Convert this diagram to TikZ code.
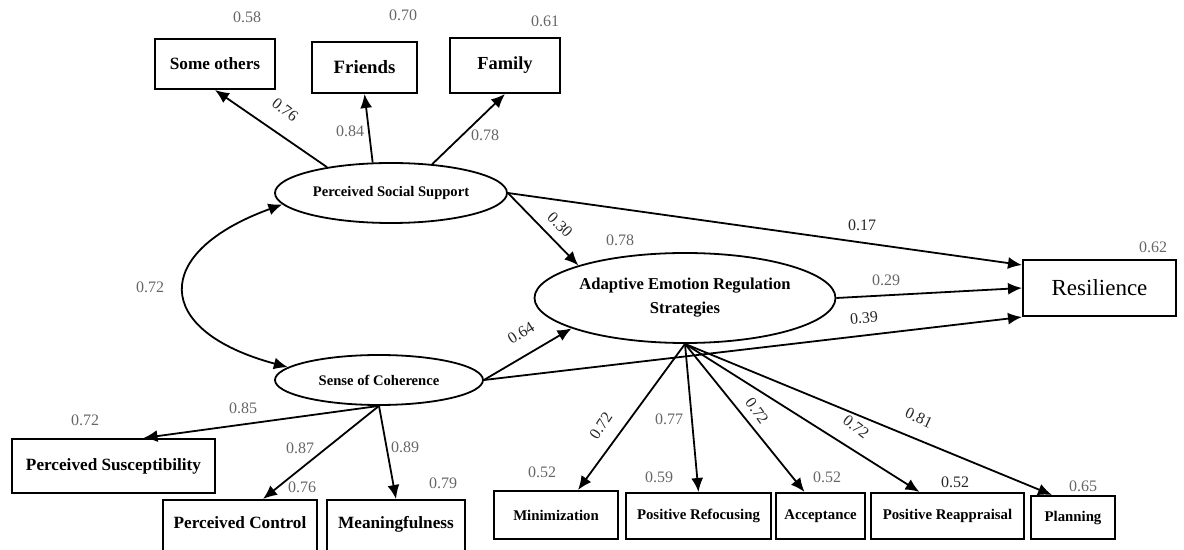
\documentclass[tikz,border=0pt]{standalone}
\usepackage{fontspec}
\setmainfont{Liberation Serif}
\usetikzlibrary{arrows.meta,shapes.geometric}

\begin{document}
\begin{tikzpicture}[x=0.5pt, y=-0.5pt, >={Latex[length=7pt,width=6pt]},
    box/.style={draw, line width=1pt, rectangle, inner sep=0pt, font=\fontsize{8.6}{10}\selectfont\bfseries},
    latent/.style={draw, line width=0.9pt, ellipse, inner sep=0pt, font=\fontsize{7.3}{9}\selectfont\bfseries},
    arr/.style={->, line width=0.9pt},
    num/.style={text=black!60, font=\fontsize{8}{9}\selectfont, inner sep=0pt},
    numd/.style={text=black!85, font=\fontsize{8}{9}\selectfont, inner sep=0pt}]

    % --- Khung ---
    \useasboundingbox (0,0) rectangle (1184,550);
    \clip (0,0) rectangle (1184,550);

    % --- Bien tiem an ---
    \node[latent, minimum width=116pt, minimum height=30pt] (pss) at (391,193) {Perceived Social Support};
    \node[latent, minimum width=150.5pt, minimum height=45pt, align=center, font=\fontsize{8.3}{12}\selectfont\bfseries] (aers) at (685,298) {Adaptive Emotion Regulation\\Strategies};
    \node[latent, minimum width=104pt, minimum height=25pt] (soc) at (379,380) {Sense of Coherence};

    % --- Bien quan sat: ho tro xa hoi ---
    \node[box, minimum width=60pt, minimum height=25pt] (so) at (215,64) {Some others};
    \node[box, minimum width=52.5pt, minimum height=25.5pt, font=\fontsize{9.4}{10}\selectfont\bfseries] (fr) at (364.5,67.5) {Friends};
    \node[box, minimum width=55pt, minimum height=27.5pt, font=\fontsize{9.2}{10}\selectfont\bfseries] (fa) at (505,65.5) {Family};

    % --- Bien quan sat: cam nhan mach lac ---
    \node[box, minimum width=101.5pt, minimum height=27pt] (psu) at (113.5,466) {Perceived Susceptibility};
    \node[box, anchor=north, minimum width=77pt, text height=14.5pt, text depth=20.5pt] (pco) at (240,499) {Perceived Control};
    \node[box, anchor=north, minimum width=69pt, text height=14.5pt, text depth=20.5pt] (mea) at (396,499) {Meaningfulness};

    % --- Bien quan sat: chien luoc dieu chinh cam xuc ---
    \node[box, minimum width=62pt, minimum height=24pt, font=\fontsize{7.4}{9}\selectfont\bfseries] (mi) at (556,515) {Minimization};
    \node[box, minimum width=72.5pt, minimum height=23pt, font=\fontsize{7.4}{9}\selectfont\bfseries] (prf) at (698.5,516) {Positive Refocusing};
    \node[box, minimum width=44.5pt, minimum height=23pt, font=\fontsize{7.4}{9}\selectfont\bfseries] (ac) at (820.5,516) {Acceptance};
    \node[box, minimum width=76.5pt, minimum height=23pt, font=\fontsize{7.4}{9}\selectfont\bfseries] (pra) at (947.5,516) {Positive Reappraisal};
    \node[box, minimum width=42pt, minimum height=21.5pt, font=\fontsize{7.4}{9}\selectfont\bfseries] (pl) at (1073,517.5) {Planning};

    % --- Bien ket qua ---
    \node[draw, line width=1pt, rectangle, inner sep=0pt, minimum width=76.5pt, minimum height=28pt, font=\fontsize{11.5}{13}\selectfont] (res) at (1099.5,288) {Resilience};

    % --- Duong dan ---
    \draw[arr] (pss.158) -- (so.south);
    \draw[arr] (pss.121) -- (fr.south);
    \draw[arr] (pss.35) -- (fa.south);
    \draw[<->, line width=0.9pt] (pss.186) to[out=200, in=165, looseness=2.2] (soc.172);
    \draw[arr] (pss.east) -- (aers.163);
    \draw[arr] (pss.east) -- ([yshift=11.5pt]res.west);
    \draw[arr] (aers.east) -- (res.west);
    \draw[arr] (soc.east) -- (aers.195);
    \draw[arr] (soc.east) -- (res.south west);
    \draw[arr] (soc.south) -- ([xshift=15pt]psu.north);
    \draw[arr] (soc.south) -- ([xshift=11.5pt]pco.north);
    \draw[arr] (soc.south) -- (mea.north);
    \draw[arr] (aers.south) -- ([xshift=11pt]mi.north);
    \draw[arr] (aers.south) -- (prf.north);
    \draw[arr] (aers.south) -- ([xshift=-8pt]ac.north);
    \draw[arr] (aers.south) -- ([xshift=-14pt]pra.north);
    \draw[arr] (aers.south) -- ([xshift=-10.5pt]pl.north);

    % --- He so ---
    \node[num] (e1) at (247,17) {0.58};
    \node[num] (e2) at (403,15) {0.70};
    \node[num] (e3) at (545,21) {0.61};
    \node[numd, rotate=-38] (l1) at (285,110) {0.76};
    \node[num] (l2) at (350,131) {0.84};
    \node[num] (l3) at (485,135) {0.78};
    \node[num] (c1) at (150,287) {0.72};
    \node[numd, rotate=-45] (b1) at (560,225) {0.30};
    \node[num] (r1) at (620,240) {0.78};
    \node[numd] (b2) at (862,225) {0.17};
    \node[num] (b3) at (886,280) {0.29};
    \node[numd, rotate=5] (b4) at (864,318) {0.39};
    \node[num] (r2) at (1153,247) {0.62};
    \node[numd, rotate=32] (b5) at (521,333) {0.64};
    \node[num] (l4) at (243,408) {0.85};
    \node[num] (e4) at (85,420) {0.72};
    \node[num] (l5) at (300,448) {0.87};
    \node[num] (e5) at (302,487) {0.76};
    \node[num] (l6) at (405,447) {0.89};
    \node[num] (e6) at (443,483) {0.79};
    \node[numd, rotate=56] (l7) at (601,426) {0.72};
    \node[num] (l8) at (669,419) {0.77};
    \node[numd, rotate=-55] (l9) at (757,411) {0.72};
    \node[numd, rotate=-38] (l10) at (856,427) {0.72};
    \node[numd, rotate=-25] (l11) at (919,418) {0.81};
    \node[num] (e7) at (542,472) {0.52};
    \node[num] (e8) at (659,477) {0.59};
    \node[num] (e9) at (827,477) {0.52};
    \node[numd] (e10) at (955,482) {0.52};
    \node[num] (e11) at (1083,486) {0.65};
\end{tikzpicture}
\end{document}
